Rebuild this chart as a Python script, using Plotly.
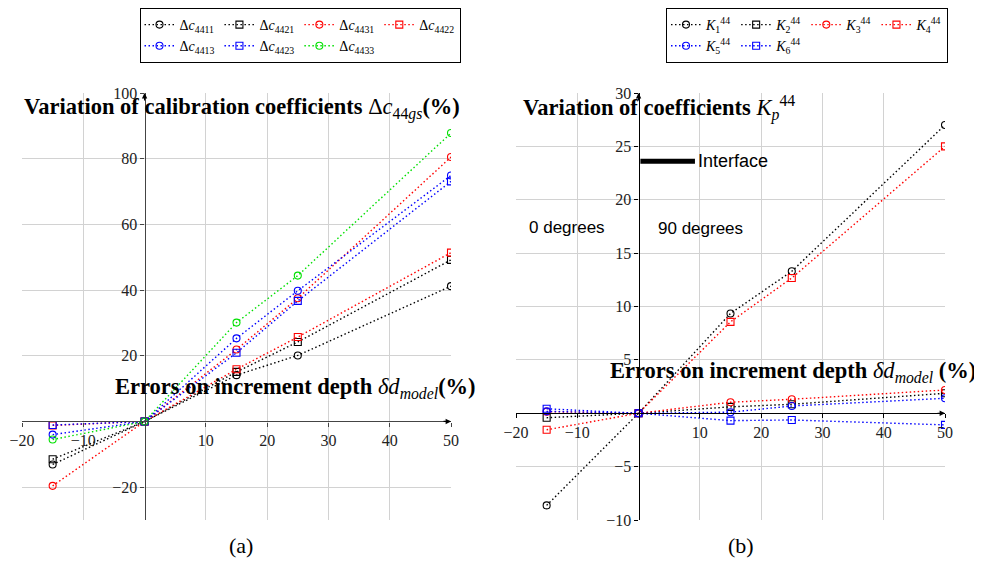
import plotly.graph_objects as go

W, H = 982, 579
OFF = 8  # the page body margin shifts the figure by this many pixels

# increment depth error (%), shared by both panels
depth_err = [-15, 0, 15, 25, 50]

# panel (a): variation of calibration coefficients (%)
dc_names = ["Δ<i>c</i><sub>4411</sub>", "Δ<i>c</i><sub>4421</sub>", "Δ<i>c</i><sub>4431</sub>",
            "Δ<i>c</i><sub>4422</sub>", "Δ<i>c</i><sub>4413</sub>", "Δ<i>c</i><sub>4423</sub>",
            "Δ<i>c</i><sub>4433</sub>"]
dc4411 = [-13.1, 0, 14.1, 20.1, 41.2]
dc4421 = [-11.5, 0, 15.1, 24.2, 49.2]
dc4431 = [-19.6, 0, 21.9, 37.5, 80.5]
dc4422 = [-1.2, 0, 15.9, 25.7, 51.4]
dc4413 = [-4.0, 0, 25.3, 39.8, 74.9]
dc4423 = [-1.1, 0, 20.9, 36.7, 73.1]
dc4433 = [-5.5, 0, 30.1, 44.4, 87.8]

# panel (b): variation of coefficients K_p^44
k_names = ["<i>K</i><sub>1</sub><sup>44</sup>", "<i>K</i><sub>2</sub><sup>44</sup>",
           "<i>K</i><sub>3</sub><sup>44</sup>", "<i>K</i><sub>4</sub><sup>44</sup>",
           "<i>K</i><sub>5</sub><sup>44</sup>", "<i>K</i><sub>6</sub><sup>44</sup>"]
k1 = [-8.63, 0, 9.35, 13.3, 27.0]
k2 = [-0.42, 0, 0.6, 0.84, 1.87]
k3 = [0.15, 0, 1.03, 1.31, 2.18]
k4 = [-1.55, 0, 8.56, 12.67, 25.0]
k5 = [0.18, 0, 0.1, 0.68, 1.40]
k6 = [0.42, 0, -0.69, -0.63, -1.09]

# interface marker in panel (b)
interface_x = [0.3, 9.2]
interface_y = [23.6, 23.6]

xticks = [-20, -10, 10, 20, 30, 40, 50]
yticks_a = [-20, 20, 40, 60, 80, 100]
yticks_b = [-10, -5, 5, 10, 15, 20, 25, 30]
xrange_ = [-20, 50]
yrange_a = [-30, 100]
yrange_b = [-10, 30]

SERIF = "Liberation Serif"
SANS = "Liberation Sans"
DOT = "1.5px,2.5px"


def px(x):
    return (x - OFF) / W


def py(y):
    return 1 - (y - OFF) / H


# plot-area domains (target pixels -> paper)
xa_dom = [px(22), px(451)]
xb_dom = [px(516), px(945)]
y_dom = [py(520), py(93)]


def frac(v, rng, dom):
    return dom[0] + (v - rng[0]) / (rng[1] - rng[0]) * (dom[1] - dom[0])


fig = go.Figure()

styles_a = [("black", "circle-open"), ("black", "square-open"), ("red", "circle-open"),
            ("red", "square-open"), ("blue", "circle-open"), ("blue", "square-open"),
            ("#00e000", "circle-open")]
groups_a = ["g1", "g2", "g3", "g4", "g1", "g2", "g3"]
for name, ys, (col, sym), grp in zip(dc_names, [dc4411, dc4421, dc4431, dc4422, dc4413, dc4423, dc4433],
                                     styles_a, groups_a):
    fig.add_trace(go.Scatter(x=depth_err, y=ys, mode="lines+markers", name=name,
                             line=dict(color=col, width=1.4, dash=DOT),
                             marker=dict(symbol=sym, size=7, color=col, line=dict(width=1.1, color=col)),
                             legendgroup="a" + grp, legend="legend", xaxis="x", yaxis="y"))

styles_b = [("black", "circle-open"), ("black", "square-open"), ("red", "circle-open"),
            ("red", "square-open"), ("blue", "circle-open"), ("blue", "square-open")]
groups_b = ["g1", "g2", "g3", "g4", "g1", "g2"]
for name, ys, (col, sym), grp in zip(k_names, [k1, k2, k3, k4, k5, k6], styles_b, groups_b):
    fig.add_trace(go.Scatter(x=depth_err, y=ys, mode="lines+markers", name=name,
                             line=dict(color=col, width=1.4, dash=DOT),
                             marker=dict(symbol=sym, size=7, color=col, line=dict(width=1.1, color=col)),
                             legendgroup="b" + grp, legend="legend2", xaxis="x2", yaxis="y2"))

fig.add_trace(go.Scatter(x=interface_x, y=interface_y, mode="lines", line=dict(color="black", width=5),
                         showlegend=False, hoverinfo="skip", xaxis="x2", yaxis="y2"))

common = dict(showgrid=True, gridcolor="#d2d2d2", gridwidth=1, zeroline=False, showline=True,
              ticks="outside", ticklen=4, tickfont=dict(family=SERIF, size=16, color="#222"),
              anchor="free", fixedrange=True)

fig.update_layout(
    xaxis=dict(domain=xa_dom, range=xrange_, tickvals=xticks,
               position=frac(0, yrange_a, y_dom), linecolor="#444", linewidth=1.3, tickcolor="#444",
               **common),
    yaxis=dict(domain=y_dom, range=yrange_a, tickvals=yticks_a,
               position=frac(0, xrange_, xa_dom), linecolor="#444", linewidth=1.3, tickcolor="#444",
               **common),
    xaxis2=dict(domain=xb_dom, range=xrange_, tickvals=xticks,
                position=frac(0, yrange_b, y_dom), linecolor="black", linewidth=1.3, tickcolor="black",
                **common),
    yaxis2=dict(domain=y_dom, range=yrange_b, tickvals=yticks_b,
                position=frac(0, xrange_, xb_dom), linecolor="black", linewidth=1.3, tickcolor="black",
                **common),
)

leg = dict(orientation="h", traceorder="grouped", bgcolor="white", bordercolor="black", borderwidth=1,
           font=dict(family=SERIF, size=14, color="black"), itemwidth=30, tracegroupgap=0,
           yanchor="top", y=py(8))
fig.update_layout(legend=dict(x=px(300), xanchor="center", **leg),
                  legend2=dict(x=px(948), xanchor="right", **leg))

# axis arrow heads
for xr, yr, xe, ye in (("x", "y", 50, 0), ("x", "y", 0, 100), ("x2", "y2", 50, 0), ("x2", "y2", 0, 30)):
    fig.add_annotation(xref=xr, yref=yr, x=xe, y=ye, text="", showarrow=True, arrowhead=2,
                       arrowsize=0.9, arrowwidth=1.2, arrowcolor="black",
                       ax=-9 if ye == 0 else 0, ay=0 if ye == 0 else 9)

labels = [
    ("<b>Variation of calibration coefficients </b>Δ<i>c</i><sub>44<i>gs</i></sub><b>(%)</b>", 22, 108, "left", SERIF, 22.5),
    ("<b>Errors on increment depth </b><i>δd</i><sub><i>model</i></sub><b>(%)</b>", 478, 388, "right", SERIF, 22.5),
    ("<b>Variation of coefficients </b><i>K</i><sub><i>p</i></sub><sup>44</sup>", 521, 108, "left", SERIF, 22.5),
    ("<b>Errors on increment depth </b><i>δd</i><sub><i>model</i></sub><b> (%)</b>", 978, 372, "right", SERIF, 22.5),
    ("Interface", 696, 161, "left", SANS, 18),
    ("0 degrees", 567, 227, "center", SANS, 17),
    ("90 degrees", 700, 229, "center", SANS, 17),
    ("(a)", 241, 545, "center", SERIF, 22),
    ("(b)", 741, 545, "center", SERIF, 22),
]
for text, lx, ly, anchor, fam, size in labels:
    fig.add_annotation(xref="paper", yref="paper", x=px(lx), y=py(ly), xanchor=anchor, yanchor="middle",
                       text=text, showarrow=False, font=dict(family=fam, size=size, color="black"))

fig.update_layout(width=W, height=H, margin=dict(l=0, r=0, t=0, b=0, autoexpand=False),
                  paper_bgcolor="white", plot_bgcolor="white", hovermode="closest")

fig.write_html("out.html")
